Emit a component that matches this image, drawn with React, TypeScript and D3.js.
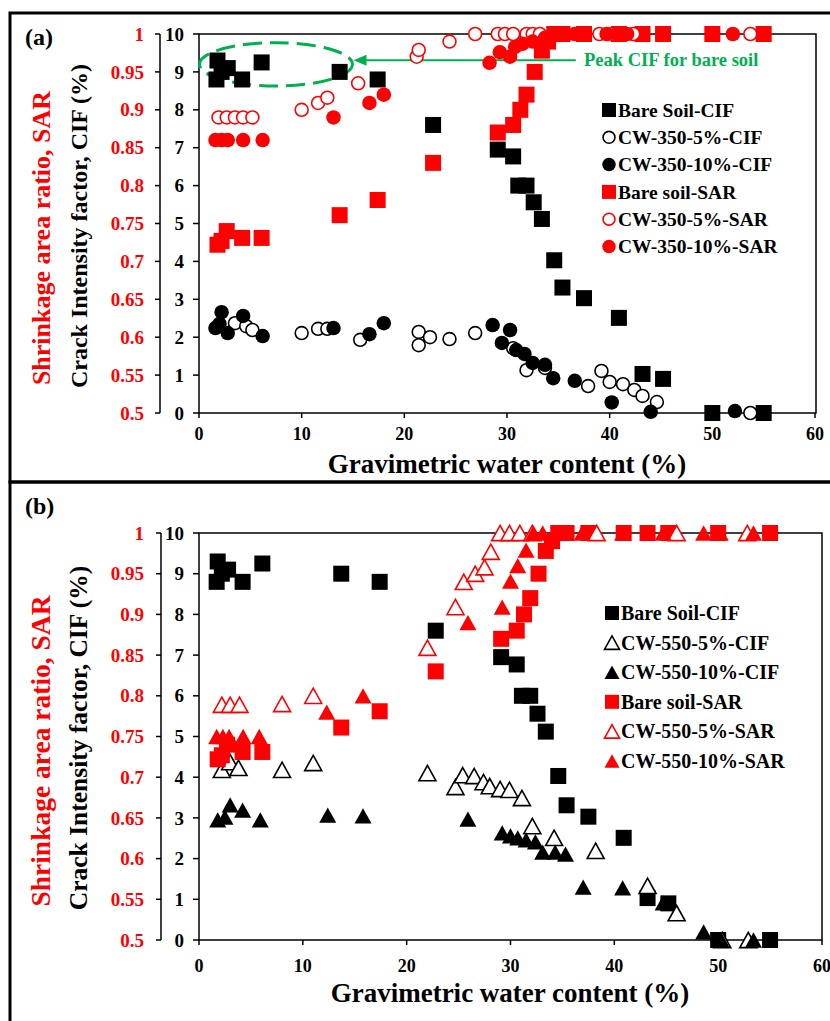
import React from "react";
import * as d3 from "d3";

// water content ticks / axis ticks
const xTicks = [0, 10, 20, 30, 40, 50, 60];
const cifTicks = [0, 1, 2, 3, 4, 5, 6, 7, 8, 9, 10];
const sarTicks = [0.5, 0.55, 0.6, 0.65, 0.7, 0.75, 0.8, 0.85, 0.9, 0.95, 1];

// bare soil (same in both panels)
const bareCifW = [1.8, 2.2, 2.8, 1.7, 4.2, 6.1, 13.7, 17.4, 22.8, 29.1, 30.6, 31.1, 31.9, 32.6, 33.4, 34.6, 35.4, 37.5, 40.9, 43.2, 45.2, 50.0, 55.0];
const bareCif = [9.3, 9.0, 9.1, 8.8, 8.8, 9.25, 9.0, 8.8, 7.6, 6.95, 6.77, 6.0, 6.0, 5.56, 5.12, 4.03, 3.31, 3.03, 2.51, 1.03, 0.9, 0, 0];
const bareSarW = [1.8, 2.2, 2.7, 4.2, 6.1, 13.7, 17.4, 22.8, 29.1, 30.6, 31.3, 31.9, 32.7, 33.4, 34.0, 34.6, 35.4, 37.5, 40.9, 43.2, 45.2, 50.0, 55.0];
const bareSar = [0.722, 0.727, 0.74, 0.731, 0.731, 0.761, 0.781, 0.83, 0.87, 0.88, 0.9, 0.92, 0.95, 0.978, 0.99, 1, 1, 1, 1, 1, 1, 1, 1];

// CW-350
const cw350_5CifW = [3.5, 4.6, 5.2, 10.0, 11.6, 12.5, 15.7, 21.4, 21.4, 22.5, 24.4, 26.9, 30.6, 31.9, 33.7, 37.9, 39.2, 40.0, 41.3, 42.4, 43.2, 44.6, 53.7];
const cw350_5Cif = [2.37, 2.29, 2.19, 2.11, 2.22, 2.22, 1.93, 2.14, 1.79, 2.0, 1.95, 2.11, 1.71, 1.13, 1.19, 0.71, 1.11, 0.82, 0.76, 0.61, 0.45, 0.29, 0.0];
const cw350_10CifW = [1.6, 2.0, 2.2, 2.8, 4.3, 6.2, 13.1, 16.6, 18.0, 28.6, 29.5, 30.3, 30.9, 31.7, 32.5, 33.7, 34.5, 36.6, 40.2, 44.0, 52.2];
const cw350_10Cif = [2.24, 2.35, 2.66, 2.11, 2.56, 2.03, 2.24, 2.08, 2.37, 2.32, 1.85, 2.19, 1.66, 1.56, 1.32, 1.27, 0.92, 0.85, 0.28, 0.03, 0.05];
const cw350_5SarW = [1.9, 2.7, 3.5, 4.3, 5.2, 10.0, 11.6, 12.5, 15.5, 21.2, 21.4, 24.4, 26.9, 29.1, 29.8, 30.6, 31.9, 32.5, 33.2, 39.0, 40.3, 42.3, 53.7];
const cw350_5Sar = [0.89, 0.89, 0.89, 0.89, 0.89, 0.9, 0.909, 0.916, 0.935, 0.97, 0.979, 0.99, 1, 1, 1, 1, 1, 1, 1, 1, 1, 1, 1];
const cw350_10SarW = [1.6, 2.2, 2.8, 4.3, 6.2, 13.1, 16.6, 18.0, 28.3, 29.3, 30.3, 30.8, 31.5, 32.5, 33.7, 34.5, 36.6, 39.7, 40.7, 41.7, 52.0];
const cw350_10Sar = [0.86, 0.86, 0.86, 0.86, 0.86, 0.89, 0.909, 0.92, 0.962, 0.976, 0.97, 0.983, 0.987, 0.99, 0.995, 1, 1, 1, 1, 1, 1];

// CW-550
const cw550_5CifW = [2.2, 3.0, 3.8, 8.0, 11.0, 22.0, 24.7, 25.4, 26.5, 27.4, 28.0, 29.0, 29.9, 31.1, 32.1, 34.2, 38.2, 43.2, 46.0, 50.4, 52.9];
const cw550_5Cif = [4.18, 4.37, 4.23, 4.18, 4.35, 4.1, 3.76, 4.05, 4.03, 3.88, 3.78, 3.71, 3.69, 3.49, 2.8, 2.51, 2.19, 1.33, 0.66, 0, 0];
const cw550_10CifW = [1.8, 2.5, 3.0, 4.2, 5.9, 12.4, 15.8, 25.9, 29.2, 30.0, 30.7, 31.5, 32.4, 33.1, 34.3, 35.3, 37.0, 40.8, 44.7, 48.6, 50.3, 53.4];
const cw550_10Cif = [2.95, 3.02, 3.32, 3.19, 2.95, 3.07, 3.05, 2.97, 2.63, 2.56, 2.51, 2.46, 2.41, 2.16, 2.16, 2.11, 1.3, 1.28, 0.91, 0.2, 0.0, 0];
const cw550_5SarW = [2.2, 3.0, 3.9, 8.0, 11.0, 22.0, 24.7, 25.5, 26.6, 27.5, 28.1, 29.0, 29.9, 30.9, 32.1, 38.3, 46.0, 52.8];
const cw550_5Sar = [0.789, 0.789, 0.789, 0.79, 0.8, 0.859, 0.909, 0.94, 0.95, 0.958, 0.977, 1, 1, 1, 1, 1, 1, 1];
const cw550_10SarW = [1.7, 2.3, 2.9, 4.25, 5.8, 12.3, 15.8, 25.9, 29.2, 30.0, 30.7, 31.5, 32.2, 33.1, 34.3, 35.3, 36.9, 40.8, 44.7, 48.6, 50.2, 53.4];
const cw550_10Sar = [0.75, 0.75, 0.75, 0.75, 0.75, 0.78, 0.8, 0.89, 0.909, 0.941, 0.96, 0.979, 1, 1, 1, 1, 1, 1, 1, 1, 1, 1];

const legendA = ["Bare Soil-CIF", "CW-350-5%-CIF", "CW-350-10%-CIF", "Bare soil-SAR", "CW-350-5%-SAR", "CW-350-10%-SAR"];
const legendB = ["Bare Soil-CIF", "CW-550-5%-CIF", "CW-550-10%-CIF", "Bare soil-SAR", "CW-550-5%-SAR", "CW-550-10%-SAR"];

const FONT = "'Liberation Serif','Times New Roman',serif";
const RED = "#ff0000";
const GREEN = "#00b050";

function Marker({ shape, cx, cy, color, filled, s }) {
  const fill = filled ? color : "#fff";
  const stroke = filled ? "none" : color;
  if (shape === "square")
    return <rect x={cx - s / 2} y={cy - s / 2} width={s} height={s} fill={fill} />;
  if (shape === "circle")
    return <circle cx={cx} cy={cy} r={filled ? s / 2 : s / 2 - 0.8} fill={fill} stroke={stroke} strokeWidth={1.6} />;
  const h = s * 0.9;
  const d = `M${cx},${cy - h / 2}L${cx + s / 2},${cy + h / 2}L${cx - s / 2},${cy + h / 2}Z`;
  return <path d={d} fill={fill} stroke={stroke} strokeWidth={1.6} strokeLinejoin="miter" />;
}

function Panel({ p }) {
  const x = d3.scaleLinear().domain([0, 60]).range([p.left, p.x60]);
  const yC = d3.scaleLinear().domain([0, 10]).range([p.y0, p.y10]);
  const yS = d3.scaleLinear().domain([0.5, 1]).range([p.y0, p.y10]);

  return (
    <g fontFamily={FONT} fontWeight="bold">
      <rect x={10} y={p.top} width={840} height={p.height} fill="none" stroke="#000" strokeWidth={3} />
      <text x={25} y={p.labelY} fontSize={24}>{p.label}</text>

      {/* plot frame */}
      <rect x={p.left} y={p.y10} width={p.right - p.left} height={p.y0 - p.y10} fill="none" stroke="#000" strokeWidth={1.5} />
      {/* left detached axis */}
      <line x1={p.axisX} x2={p.axisX} y1={p.y10} y2={p.y0} stroke="#000" strokeWidth={1.5} />
      {cifTicks.map((t) => (
        <g key={"c" + t}>
          <line x1={p.axisX - 5} x2={p.axisX} y1={yC(t)} y2={yC(t)} stroke="#000" strokeWidth={1.5} />
          <line x1={p.left - 6} x2={p.left} y1={yC(t)} y2={yC(t)} stroke="#000" strokeWidth={1.5} />
          <text x={184} y={yC(t)} dy="0.35em" textAnchor="end" fontSize={19}>{t}</text>
        </g>
      ))}
      {sarTicks.map((t) => (
        <text key={"s" + t} x={144} y={yS(t)} dy="0.35em" textAnchor="end" fontSize={19} fill={RED}>{String(t)}</text>
      ))}
      {xTicks.map((t) => (
        <g key={"x" + t}>
          <line x1={x(t)} x2={x(t)} y1={p.y0} y2={p.y0 + 5} stroke="#000" strokeWidth={1.5} />
          <text x={x(t)} y={p.xLabelY} textAnchor="middle" fontSize={18}>{t}</text>
        </g>
      ))}
      <text x={p.titleX} y={p.titleY} textAnchor="middle" fontSize={27}>Gravimetric water content (%)</text>
      <text transform={`translate(87,${p.cifTitleY}) rotate(-90)`} textAnchor="middle" fontSize={p.cifTitleSize}>Crack Intensity factor, CIF (%)</text>
      <text transform={`translate(50,${p.sarTitleY}) rotate(-90)`} textAnchor="middle" fontSize={p.sarTitleSize} fill={RED}>Shrinkage area ratio, SAR</text>

      {p.annotate && (
        <g>
          <ellipse cx={x(7.5)} cy={yC(9.2)} rx={x(14.95) - x(7.5)} ry={yC(9.2) - yC(9.77)} fill="none" stroke={GREEN} strokeWidth={3} strokeDasharray="19 8" />
          <line x1={x(15.8)} x2={x(36.7)} y1={yC(9.31)} y2={yC(9.31)} stroke={GREEN} strokeWidth={2} />
          <path d={`M${x(15.05)},${yC(9.31)}l13,-5.5l0,11Z`} fill={GREEN} />
          <text x={x(37.5)} y={yC(9.31)} dy="0.33em" fontSize={18.5} fill={GREEN}>Peak CIF for bare soil</text>
        </g>
      )}

      {p.series.map((s, i) => (
        <g key={"sr" + i}>
          {s.w.map((w, j) => (
            <Marker key={j} shape={s.shape} cx={x(w)} cy={s.axis === "cif" ? yC(s.v[j]) : yS(s.v[j])} color={s.color} filled={s.filled} s={s.shape === "square" ? 16 : s.shape === "circle" ? 14.5 : 17} />
          ))}
        </g>
      ))}

      {p.series.map((s, i) => (
        <g key={"lg" + i}>
          <Marker shape={s.shape} cx={p.legX} cy={p.legY + i * p.legStep} color={s.color} filled={s.filled} s={s.shape === "square" ? 14 : s.shape === "circle" ? 13.5 : 15} />
          <text x={p.legX + 9} y={p.legY + i * p.legStep} dy="0.35em" fontSize={p.legSize}>{p.legend[i]}</text>
        </g>
      ))}
    </g>
  );
}

const panelA = {
  label: "(a)", labelY: 45, top: 13, height: 469,
  left: 199, right: 816, x60: 815, y0: 413, y10: 34, axisX: 160,
  xLabelY: 440, titleX: 507, titleY: 473,
  cifTitleY: 226, cifTitleSize: 24, sarTitleY: 238, sarTitleSize: 26,
  legX: 609, legY: 110, legStep: 27.3, legSize: 19.5, legend: legendA,
  annotate: true,
  series: [
    { w: bareCifW, v: bareCif, axis: "cif", shape: "square", color: "#000", filled: true },
    { w: cw350_5CifW, v: cw350_5Cif, axis: "cif", shape: "circle", color: "#000", filled: false },
    { w: cw350_10CifW, v: cw350_10Cif, axis: "cif", shape: "circle", color: "#000", filled: true },
    { w: bareSarW, v: bareSar, axis: "sar", shape: "square", color: RED, filled: true },
    { w: cw350_5SarW, v: cw350_5Sar, axis: "sar", shape: "circle", color: RED, filled: false },
    { w: cw350_10SarW, v: cw350_10Sar, axis: "sar", shape: "circle", color: RED, filled: true },
  ],
};

const panelB = {
  label: "(b)", labelY: 514, top: 482, height: 560,
  left: 199, right: 822, x60: 822, y0: 940, y10: 533, axisX: 161,
  xLabelY: 972, titleX: 510, titleY: 1002,
  cifTitleY: 738, cifTitleSize: 25.5, sarTitleY: 751, sarTitleSize: 27.5,
  legX: 612, legY: 613, legStep: 29.6, legSize: 20, legend: legendB,
  annotate: false,
  series: [
    { w: bareCifW, v: bareCif, axis: "cif", shape: "square", color: "#000", filled: true },
    { w: cw550_5CifW, v: cw550_5Cif, axis: "cif", shape: "triangle", color: "#000", filled: false },
    { w: cw550_10CifW, v: cw550_10Cif, axis: "cif", shape: "triangle", color: "#000", filled: true },
    { w: bareSarW, v: bareSar, axis: "sar", shape: "square", color: RED, filled: true },
    { w: cw550_5SarW, v: cw550_5Sar, axis: "sar", shape: "triangle", color: RED, filled: false },
    { w: cw550_10SarW, v: cw550_10Sar, axis: "sar", shape: "triangle", color: RED, filled: true },
  ],
};

export default function App() {
  return (
    <svg width={830} height={1021} style={{ position: "absolute", left: 0, top: 0, background: "#fff" }}>
      <rect width={830} height={1021} fill="#fff" />
      <Panel p={panelA} />
      <Panel p={panelB} />
    </svg>
  );
}
